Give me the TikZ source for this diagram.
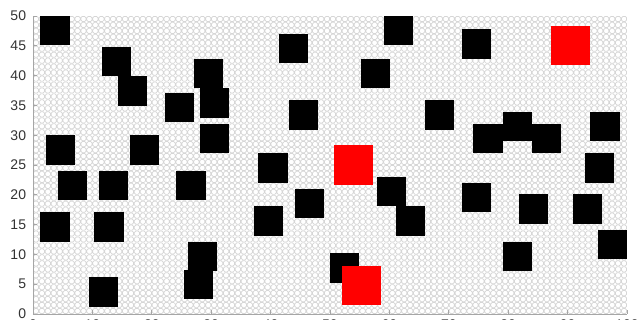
\documentclass[tikz,border=0pt]{standalone}
\usepackage{fontspec}
\setmainfont{Liberation Sans}
\begin{document}
\begin{tikzpicture}[x=2.97pt,y=2.98pt,
  cellc/.style={draw=gray!32,line width=0.35pt,fill=white,rounded corners=0.7pt},
  blk/.style={fill=black},
  redb/.style={fill=red},
  axisl/.style={draw=gray!70,line width=0.4pt},
  ticklab/.style={font=\fontsize{7pt}{8pt}\selectfont,text=black!80,inner sep=0pt}]
\useasboundingbox (-16.5pt,-3pt) rectangle (303pt,157pt);
% grid of markers
\foreach \j in {0,...,49}{\path[cellc] \foreach \i in {0,...,99}{(\i+0.07,\j+0.07) rectangle (\i+0.93,\j+0.93)};}
% black blocks
\foreach \cx/\cy in {3.7/47.5,14.0/42.3,16.7/37.4,29.6/40.3,30.6/35.4,24.7/34.6,43.8/44.5,61.6/47.5,57.6/40.4,74.6/45.3,
45.6/33.4,68.5/33.4,4.7/27.5,18.7/27.5,30.6/29.5,76.6/29.5,81.5/31.5,86.4/29.5,96.3/31.5,6.7/21.5,13.6/21.5,26.6/21.5,
40.4/24.5,95.3/24.5,60.4/20.6,46.5/18.5,74.6/19.5,84.3/17.6,93.4/17.6,3.7/14.6,12.8/14.6,39.6/15.6,63.5/15.6,28.6/9.6,
27.8/4.9,11.8/3.7,81.5/9.7,97.5/11.7,52.5/7.7}
  {\path[blk] (\cx-2.45,\cy-2.45) rectangle (\cx+2.45,\cy+2.45);}
% red blocks
\foreach \cx/\cy in {90.5/45,54/25,55.3/4.8}
  {\path[redb] (\cx-3.3,\cy-3.3) rectangle (\cx+3.3,\cy+3.3);}
% axes
\draw[axisl] (0,0) coordinate (o) -- (0,50) coordinate (ytop);
\draw[axisl] (o) -- (100,0) coordinate (xend);
\foreach \v in {0,5,...,50}{\draw[axisl] (0,\v) -- (0.6,\v); \node[ticklab,anchor=east] (yl\v) at (-1.1,\v) {\v};}
\foreach \v in {0,10,...,100}{\draw[axisl] (\v,0) -- (\v,0.6); \node[ticklab,anchor=north] (xl\v) at (\v,-0.85) {\v};}
\end{tikzpicture}
\end{document}
